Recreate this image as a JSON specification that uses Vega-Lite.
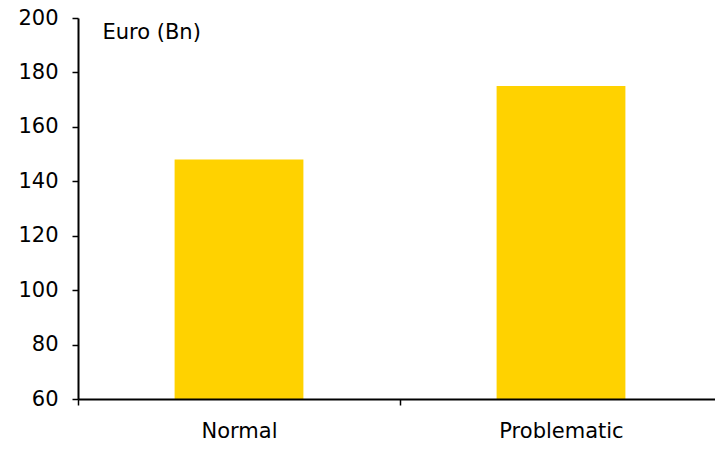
{
  "$schema": "https://vega.github.io/schema/vega-lite/v6.json",
  "width": 644,
  "height": 381,
  "autosize": "none",
  "padding": {"left": 78, "top": 18, "right": 0, "bottom": 50},
  "background": "white",
  "config": {"view": {"stroke": null}, "font": "DejaVu Sans"},
  "data": {"values": [
    {"category": "Normal", "value": 148},
    {"category": "Problematic", "value": 175}
  ]},
  "mark": {"type": "bar", "color": "#FFD200", "width": {"band": 0.4}, "clip": true},
  "encoding": {
    "x": {
      "field": "category", "type": "nominal", "sort": null,
      "scale": {"paddingInner": 0, "paddingOuter": 0},
      "axis": {
        "title": null, "labelAngle": 0, "labelFontSize": 21, "labelColor": "black",
        "domainColor": "black", "domainWidth": 2, "tickColor": "black", "tickWidth": 1.5,
        "tickSize": 6, "tickBand": "extent", "labelPadding": 15, "zindex": 1
      }
    },
    "y": {
      "field": "value", "type": "quantitative",
      "scale": {"domain": [60, 200], "nice": false, "zero": false},
      "axis": {
        "values": [60, 80, 100, 120, 140, 160, 180, 200],
        "grid": false, "labelFontSize": 21, "labelColor": "black",
        "domainColor": "black", "domainWidth": 2, "tickColor": "black", "tickWidth": 1.5,
        "tickSize": 6, "labelPadding": 14, "zindex": 1,
        "title": "Euro (Bn)", "titleAngle": 0, "titleAlign": "left", "titleBaseline": "alphabetic",
        "titleX": 24, "titleY": 20, "titleFontSize": 21, "titleFontWeight": "normal", "titleColor": "black"
      }
    }
  }
}
